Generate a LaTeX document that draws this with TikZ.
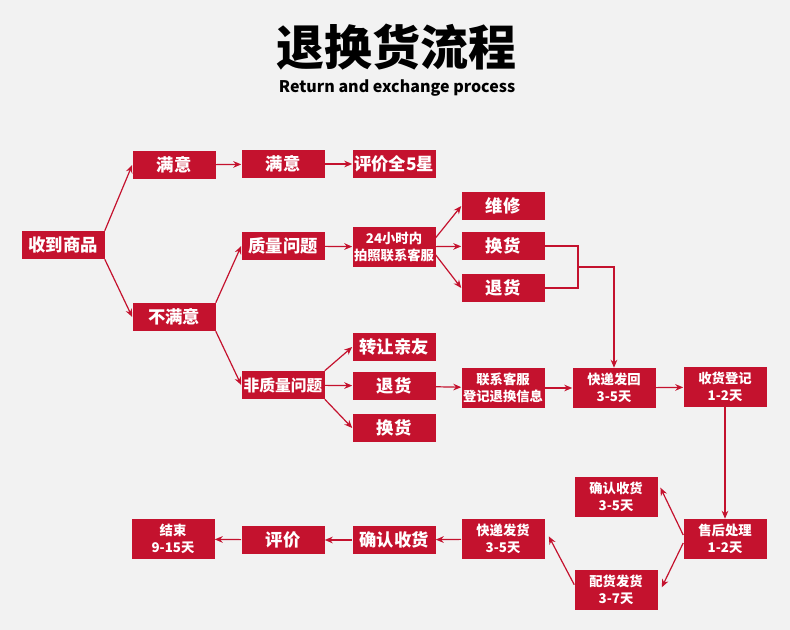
\documentclass[tikz,border=0pt]{standalone}
\usepackage{fontspec}
\setmainfont{Noto Sans CJK SC}
\usetikzlibrary{arrows.meta}

\definecolor{boxred}{RGB}{196,18,46}
\definecolor{bggray}{RGB}{242,242,242}

\begin{document}
\begin{tikzpicture}[x=0.75pt, y=-0.75pt,
  >={Stealth[length=6pt,width=5pt]},
  b/.style={fill=boxred, text=white, font=\bfseries\fontsize{13}{15}\selectfont,
            inner sep=0pt, minimum width=62.25pt, minimum height=21pt, align=center},
  bb/.style={b, font=\bfseries\fontsize{10}{12.5}\selectfont, minimum height=30pt},
  a/.style={->, line width=0.9pt, draw=boxred},
  l/.style={line width=0.9pt, draw=boxred},
]
% background
\fill[bggray] (0,0) rectangle (790,630);
\useasboundingbox (0,0) rectangle (790,630);

% title
\node (title) at (396,47) {\bfseries\fontsize{36}{40}\selectfont 退换货流程};
\node (subtitle) at (397,88) {\bfseries\fontsize{12}{14}\selectfont Return and exchange process};

% first columns
\node[b] (recv) at (63,245) {收到商品};
\node[b] (sat1) at (174,165) {满意};
\node[b] (unsat) at (174,317) {不满意};
\node[b] (sat2) at (283,164) {满意};
\node[b] (star) at (394,164) {评价全5星};
\node[b] (qual) at (283,246) {质量问题};
\node[b, font=\bfseries\fontsize{11.8}{14}\selectfont] (nonq) at (283,385) {非质量问题};
\node[bb] (call) at (394,247) {24小时内\\拍照联系客服};
\node[b] (fix) at (503,206) {维修};
\node[b] (swap1) at (503,246) {换货};
\node[b] (ret1) at (503,288) {退货};
\node[b] (gift) at (394,347) {转让亲友};
\node[b] (ret2) at (394,386) {退货};
\node[b] (swap2) at (394,428) {换货};

% return row
\node[bb] (reg) at (503,388) {联系客服\\登记退换信息};
\node[bb] (back) at (614,388) {快递发回\\3-5天};
\node[bb] (sign) at (725,387) {收货登记\\1-2天};

% after-sales
\node[bb] (after) at (725,539) {售后处理\\1-2天};
\node[bb] (conf1) at (616,497) {确认收货\\3-5天};
\node[bb] (ship) at (616,590) {配货发货\\3-7天};
\node[bb] (exp2) at (503,539) {快递发货\\3-5天};
\node[b] (conf2) at (394,540) {确认收货};
\node[b] (rate) at (283,540) {评价};
\node[bb] (done) at (173,539) {结束\\9-15天};

% connectors
\draw[a] (recv.north east) -- (sat1.west);
\draw[a] (recv.south east) -- (unsat.west);
\draw[a] (sat1) -- (sat2);
\draw[a] (sat2) -- (star);
\draw[a] (unsat.north east) -- (qual.west);
\draw[a] (unsat.south east) -- (nonq.west);
\draw[a] (qual) -- (call);
\draw[a] ([yshift=7pt]call.east) -- (fix.west);
\draw[a] (call) -- (swap1);
\draw[a] ([yshift=-6pt]call.east) -- (ret1.west);
\coordinate (join) at (578,267);
\draw[l] (swap1.east) -| (join) |- (ret1.east);
\draw[a] (join) -| (back.north);
\draw[a] (nonq.north east) -- (gift.west);
\draw[a] (nonq) -- (ret2);
\draw[a] (nonq.south east) -- (swap2.west);
\draw[a] (ret2) -- (reg);
\draw[a] (reg) -- (back);
\draw[a] (back) -- (sign);
\draw[a] (sign) -- (after);
\draw[a] ([yshift=3pt]after.west) -- ([xshift=2pt,yshift=7pt]conf1.east);
\draw[a] ([yshift=-3pt]after.west) -- ([xshift=3pt,yshift=2pt]ship.east);
\draw[a] ([yshift=4pt]ship.west) -- ([xshift=3pt,yshift=2pt]exp2.east);
\draw[a] (exp2) -- (conf2);
\draw[a] (conf2) -- (rate);
\draw[a] (rate) -- (done);
\end{tikzpicture}
\end{document}
